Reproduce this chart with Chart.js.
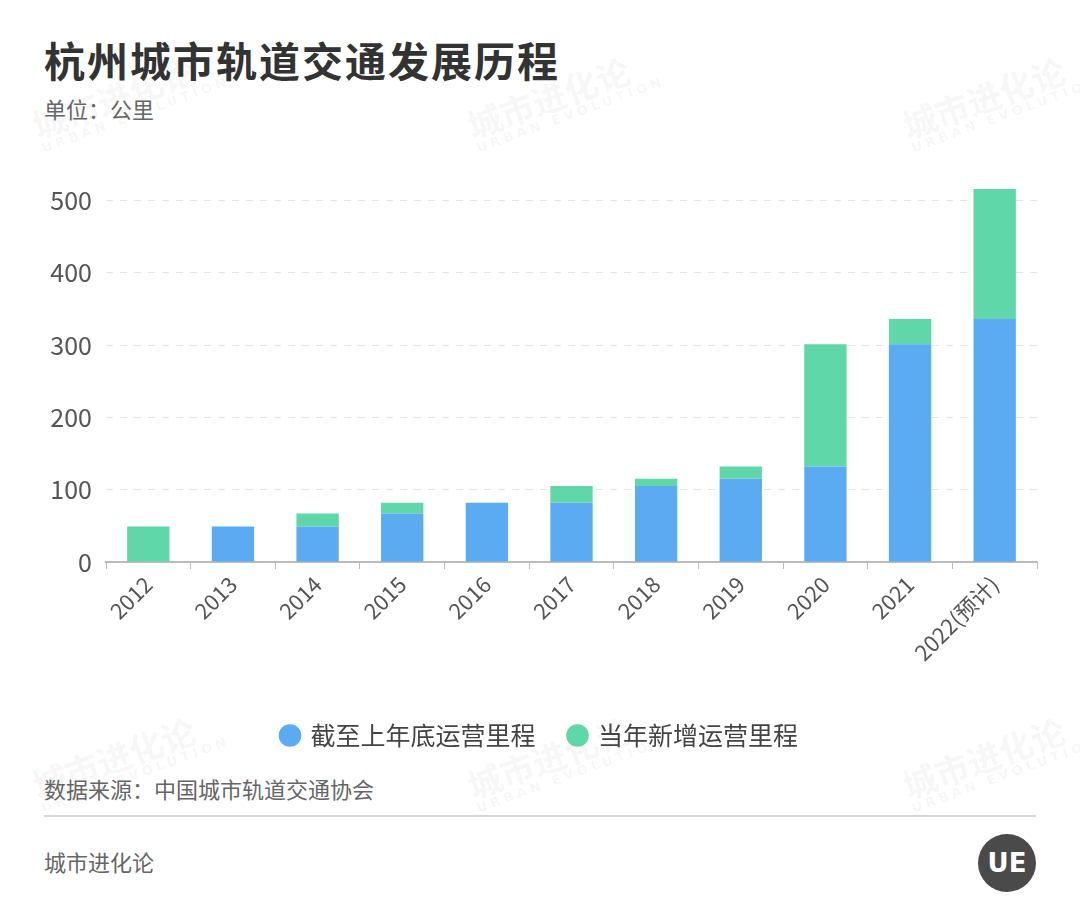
<!DOCTYPE html>
<html>
<head>
<meta charset="utf-8">
<script src="https://cdn.jsdelivr.net/npm/chart.js@4"></script>
<style>
    body { margin: 0; background: #fff; font-family: "Noto Sans CJK SC", sans-serif; }
    #page { position: relative; width: 1080px; height: 918px; overflow: hidden; }
    .title { position: absolute; left: 44px; top: 29px; font-size: 41px; font-weight: bold; color: #333; letter-spacing: 2px; }
    .unit { position: absolute; left: 44px; top: 92px; font-size: 22px; color: #666; }
    .source { position: absolute; left: 44px; top: 772px; font-size: 22px; color: #666; }
    .rule { position: absolute; left: 44px; top: 815px; width: 992px; height: 2px; background: #d6d6d6; }
    .brand { position: absolute; left: 44px; top: 845px; font-size: 22px; color: #666; }
    .logo { position: absolute; left: 978px; top: 834px; width: 58px; height: 58px; border-radius: 50%; background: #4a4a4a; color: #fff; font: bold 26px "DejaVu Sans", sans-serif; text-align: center; line-height: 58px; }
    .wm { position: absolute; color: rgba(0,0,0,0.05); transform: rotate(-20deg); font-size: 34px; font-weight: bold; line-height: 1; white-space: nowrap; }
    .wm span { display: block; font-size: 13px; letter-spacing: 4px; font-family: "DejaVu Sans", sans-serif; }
    #chartBox { position: absolute; left: 0; top: 150px; width: 1080px; height: 620px; }
</style>
</head>
<body>
<div id="page">
    <div class="wm" style="left:30px;top:75px">城市进化论<span>URBAN EVOLUTION</span></div>
    <div class="wm" style="left:465px;top:75px">城市进化论<span>URBAN EVOLUTION</span></div>
    <div class="wm" style="left:900px;top:75px">城市进化论<span>URBAN EVOLUTION</span></div>
    <div class="wm" style="left:30px;top:735px">城市进化论<span>URBAN EVOLUTION</span></div>
    <div class="wm" style="left:465px;top:735px">城市进化论<span>URBAN EVOLUTION</span></div>
    <div class="wm" style="left:900px;top:735px">城市进化论<span>URBAN EVOLUTION</span></div>

    <div class="title">杭州城市轨道交通发展历程</div>
    <div class="unit">单位：公里</div>
    <div id="chartBox"><canvas id="trackChart"></canvas></div>
    <div class="source">数据来源：中国城市轨道交通协会</div>
    <div class="rule"></div>
    <div class="brand">城市进化论</div>
    <div class="logo">UE</div>
</div>
<script>
const years = ["2012", "2013", "2014", "2015", "2016", "2017", "2018", "2019", "2020", "2021", "2022(预计)"];
const existingKm = [0, 49, 49, 67, 82, 82, 105, 115, 132, 301, 336];
const newKm = [49, 0, 18, 15, 0, 23, 10, 17, 169, 35, 180];
const yTicks = [0, 100, 200, 300, 400, 500];

document.addEventListener("DOMContentLoaded", function () {
    let ctx = document.getElementById("trackChart").getContext("2d");
    new Chart(ctx, {
        type: "bar",
        data: {
            labels: years,
            datasets: [{
                label: "截至上年底运营里程",
                data: existingKm,
                backgroundColor: "#5aabf1",
                categoryPercentage: 1,
                barPercentage: 0.5
            }, {
                label: "当年新增运营里程",
                data: newKm,
                backgroundColor: "#5fd7a9",
                categoryPercentage: 1,
                barPercentage: 0.5
            }]
        },
        options: {
            responsive: true,
            maintainAspectRatio: false,
            animation: false,
            layout: { padding: { left: 43, right: 43, top: 36, bottom: 12 } },
            plugins: {
                tooltip: { enabled: false },
                legend: {
                    position: "bottom",
                    labels: {
                        usePointStyle: true,
                        pointStyle: "circle",
                        boxWidth: 16,
                        boxHeight: 16,
                        padding: 34,
                        color: "#444",
                        font: { family: "Noto Sans CJK SC", size: 25 }
                    }
                }
            },
            scales: {
                x: {
                    stacked: true,
                    grid: { drawOnChartArea: false, drawTicks: true, tickLength: 7, color: "#bbb" },
                    border: { color: "#bbb", width: 2 },
                    ticks: {
                        minRotation: 45,
                        maxRotation: 45,
                        color: "#555",
                        padding: 2,
                        font: { family: "Noto Sans CJK SC", size: 22 }
                    },
                    afterFit: function (scale) { scale.height = 127; }
                },
                y: {
                    stacked: true,
                    min: 0,
                    max: 520,
                    grid: { color: "#e6e6e6", drawTicks: false },
                    border: { display: false, dash: [7, 7] },
                    ticks: {
                        stepSize: 100,
                        color: "#555",
                        padding: 14,
                        font: { family: "Noto Sans CJK SC", size: 25 }
                    },
                    afterBuildTicks: function (scale) {
                        scale.ticks = yTicks.map(v => ({ value: v }));
                    },
                    afterFit: function (scale) { scale.width = 63; }
                }
            }
        }
    });
});
</script>
</body>
</html>
